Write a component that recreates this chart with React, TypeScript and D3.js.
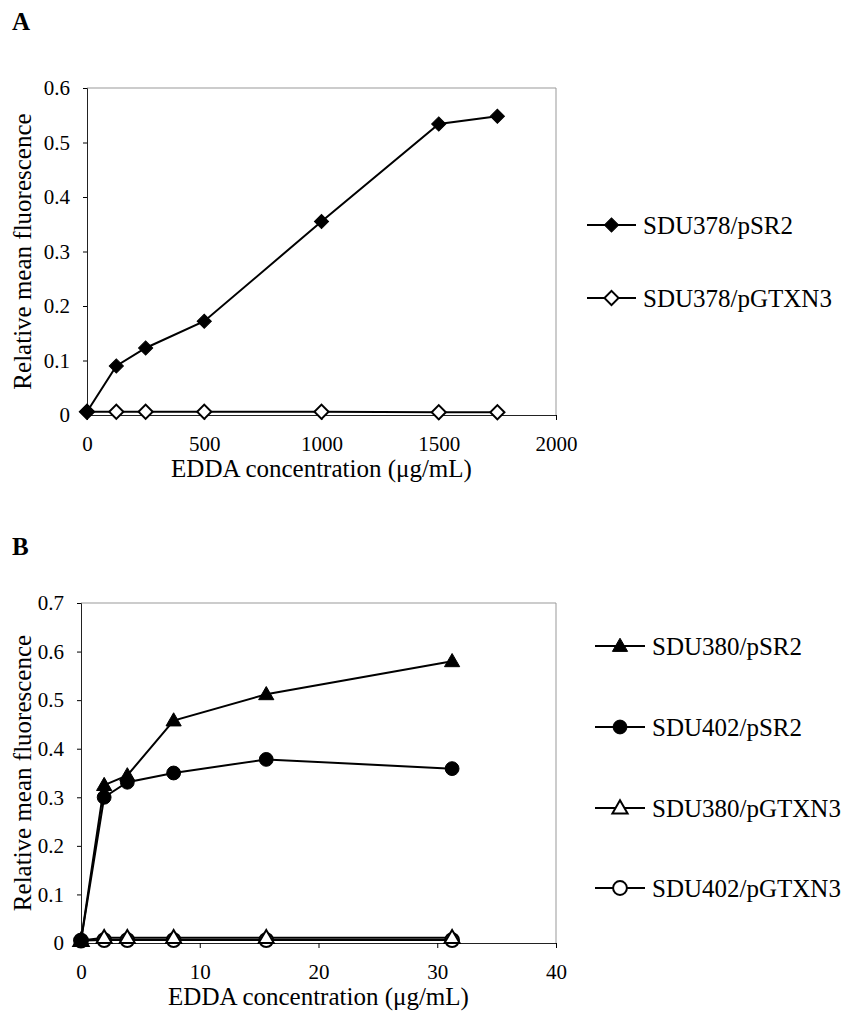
import React, { useEffect, useRef } from "react";
import * as d3 from "d3";

// panel A
const concA = [0, 125, 250, 500, 1000, 1500, 1750];
const sdu378pSR2 = [0.006, 0.09, 0.123, 0.172, 0.355, 0.534, 0.548];
const sdu378pGTXN3 = [0.006, 0.006, 0.006, 0.006, 0.006, 0.005, 0.005];
const xTicksA = [0, 500, 1000, 1500, 2000];
const yTicksA = [0, 0.1, 0.2, 0.3, 0.4, 0.5, 0.6];

// panel B
const concB = [0, 1.95, 3.9, 7.8, 15.6, 31.25];
const sdu380pSR2 = [0.005, 0.325, 0.345, 0.458, 0.512, 0.58];
const sdu402pSR2 = [0.005, 0.3, 0.331, 0.35, 0.378, 0.359];
const sdu380pGTXN3 = [0.005, 0.011, 0.011, 0.011, 0.011, 0.011];
const sdu402pGTXN3 = [0.005, 0.006, 0.006, 0.006, 0.006, 0.006];
const xTicksB = [0, 10, 20, 30, 40];
const yTicksB = [0, 0.1, 0.2, 0.3, 0.4, 0.5, 0.6, 0.7];

const FONT = "Liberation Serif, Times New Roman, DejaVu Serif, serif";

type Series = { name: string; values: number[]; shape: string; filled: boolean };

const seriesA: Series[] = [
  { name: "SDU378/pSR2", values: sdu378pSR2, shape: "diamond", filled: true },
  { name: "SDU378/pGTXN3", values: sdu378pGTXN3, shape: "diamond", filled: false },
];
const seriesB: Series[] = [
  { name: "SDU380/pSR2", values: sdu380pSR2, shape: "triangle", filled: true },
  { name: "SDU402/pSR2", values: sdu402pSR2, shape: "circle", filled: true },
  { name: "SDU380/pGTXN3", values: sdu380pGTXN3, shape: "triangle", filled: false },
  { name: "SDU402/pGTXN3", values: sdu402pGTXN3, shape: "circle", filled: false },
];

// marker path for a shape
const markerPath = (shape: string) => {
  if (shape === "diamond") return d3.symbol(d3.symbolSquare, 100)();
  if (shape === "triangle") return d3.symbol(d3.symbolTriangle, 100)();
  return d3.symbol(d3.symbolCircle, 150)();
};

const drawMarker = (g: any, shape: string, filled: boolean, x: number, y: number) => {
  const rot = shape === "diamond" ? " rotate(45)" : "";
  const dy = shape === "triangle" ? 1 : 0;
  g.append("path")
    .attr("d", markerPath(shape))
    .attr("transform", `translate(${x},${y + dy})${rot}`)
    .attr("fill", filled ? "#000" : "#fff")
    .attr("stroke", "#000")
    .attr("stroke-width", filled ? 1 : 2);
};

const drawPanel = (svg: any, opts: any) => {
  const { x, y, xs, series, xTicks, yTicks, legend } = opts;
  const [x0, x1] = x.range();
  const [y0, y1] = y.range();
  const g = svg.append("g");

  // frame: top/right grey, left/bottom black
  g.append("line").attr("x1", x0).attr("x2", x1).attr("y1", y1).attr("y2", y1).attr("stroke", "#999");
  g.append("line").attr("x1", x1).attr("x2", x1).attr("y1", y1).attr("y2", y0).attr("stroke", "#999");

  const yAxis = d3.axisLeft(y).tickValues(yTicks).tickSize(4).tickPadding(13)
    .tickFormat((d: any) => (d === 0 ? "0" : d3.format(".1f")(d)));
  const xAxis = d3.axisBottom(x).tickValues(xTicks).tickSize(5).tickPadding(16)
    .tickFormat(d3.format("d") as any);
  const ya = g.append("g").attr("transform", `translate(${x0},0)`).call(yAxis);
  const xa = g.append("g").attr("transform", `translate(0,${y0})`).call(xAxis);
  [ya, xa].forEach((a) => {
    a.attr("font-family", null).attr("font-size", null);
    a.select(".domain").attr("stroke", "#222");
    a.selectAll("text").style("font-family", FONT).style("font-size", "21px").attr("fill", "#000");
  });

  const line = d3.line<number>().x((_, i) => x(xs[i])).y((d) => y(d));
  // draw from back to front
  [...series].reverse().forEach((s: Series) => {
    g.append("path").attr("d", line(s.values)).attr("fill", "none").attr("stroke", "#000").attr("stroke-width", 2);
  });
  [...series].reverse().forEach((s: Series) => {
    s.values.forEach((v, i) => drawMarker(g, s.shape, s.filled, x(xs[i]), y(v)));
  });

  // axis titles
  g.append("text")
    .attr("x", (x0 + x1) / 2).attr("y", y0 + 62)
    .attr("text-anchor", "middle").style("font-family", FONT).style("font-size", "25px")
    .text("EDDA concentration (\u03bcg/mL)");
  g.append("text")
    .attr("transform", `translate(31,${(y0 + y1) / 2}) rotate(-90)`)
    .attr("text-anchor", "middle").style("font-family", FONT).style("font-size", "25px")
    .text("Relative mean fluorescence");

  // legend
  series.forEach((s: Series, i: number) => {
    const ly = legend.ys[i];
    g.append("line").attr("x1", legend.x1).attr("x2", legend.x2).attr("y1", ly).attr("y2", ly)
      .attr("stroke", "#000").attr("stroke-width", 2);
    drawMarker(g, s.shape, s.filled, (legend.x1 + legend.x2) / 2, ly);
    g.append("text").attr("x", legend.tx).attr("y", ly + 9)
      .style("font-family", FONT).style("font-size", "25px").text(s.name);
  });
};

const App = () => {
  const svgRef = useRef<SVGSVGElement>(null);

  useEffect(() => {
    const svg = d3.select(svgRef.current);
    svg.selectAll("*").remove();

    svg.append("text").attr("x", 12).attr("y", 30).style("font-family", FONT)
      .style("font-weight", "bold").style("font-size", "25px").text("A");
    svg.append("text").attr("x", 12).attr("y", 555).style("font-family", FONT)
      .style("font-weight", "bold").style("font-size", "25px").text("B");

    drawPanel(svg, {
      x: d3.scaleLinear().domain([0, 2000]).range([87, 556]),
      y: d3.scaleLinear().domain([0, 0.6]).range([415, 88]),
      xs: concA,
      series: seriesA,
      xTicks: xTicksA,
      yTicks: yTicksA,
      legend: { x1: 587, x2: 636, tx: 643, ys: [225, 298] },
    });

    drawPanel(svg, {
      x: d3.scaleLinear().domain([0, 40]).range([81, 556]),
      y: d3.scaleLinear().domain([0, 0.7]).range([943, 603]),
      xs: concB,
      series: seriesB,
      xTicks: xTicksB,
      yTicks: yTicksB,
      legend: { x1: 595, x2: 645, tx: 652, ys: [646, 727, 808, 888] },
    });
  }, []);

  return (
    <svg
      ref={svgRef}
      width={850}
      height={1011}
      style={{ position: "absolute", left: 0, top: 0, background: "#fff", fontFamily: FONT }}
    ></svg>
  );
};

export default App;
